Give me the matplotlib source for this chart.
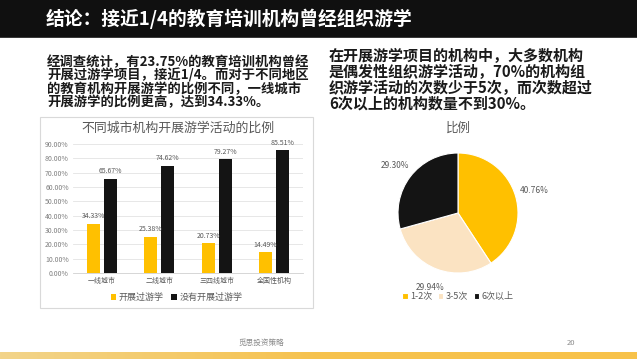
import numpy as np
import matplotlib
matplotlib.use("Agg")
import matplotlib.pyplot as plt
from matplotlib.patches import Rectangle
from matplotlib.colors import LinearSegmentedColormap

plt.rcParams['font.family'] = ['Noto Sans CJK SC', 'DejaVu Sans']

# 数据
cities = ['一线城市', '二线城市', '三四线城市', '全国性机构']
done = [34.33, 25.38, 20.73, 14.49]
not_done = [65.67, 74.62, 79.27, 85.51]
yticks = [0, 10, 20, 30, 40, 50, 60, 70, 80, 90]

freq_labels = ['1-2次', '3-5次', '6次以上']
freq_values = [40.76, 29.94, 29.30]

title_text = '结论：接近1/4的教育培训机构曾经组织游学'
left_lines = ['经调查统计，有23.75%的教育培训机构曾经',
              '开展过游学项目，接近1/4。而对于不同地区',
              '的教育机构开展游学的比例不同，一线城市',
              '开展游学的比例更高，达到34.33%。']
right_lines = ['在开展游学项目的机构中，大多数机构',
               '是偶发性组织游学活动，70%的机构组',
               '织游学活动的次数少于5次，而次数超过',
               '6次以上的机构数量不到30%。']

W, H = 637, 359
YELLOW = '#FFC000'
BLACK = '#141414'
BEIGE = '#FBE3C2'
GRAY = '#595959'

fig = plt.figure(figsize=(W / 100, H / 100), dpi=100)
fig.patch.set_facecolor('white')


def fx(px):
    return px / W


def fy(py):
    return 1 - py / H


# 标题栏
fig.patches.append(Rectangle((0, fy(37)), 1, 37 / H, transform=fig.transFigure,
                             facecolor='#101010', edgecolor='none', zorder=0))
fig.patches.append(Rectangle((0, fy(38)), 1, 1.2 / H, transform=fig.transFigure,
                             facecolor='#3a3a3a', edgecolor='none', zorder=0))
fig.text(fx(46), fy(19), title_text, color='white', fontsize=13.5, fontweight='bold',
         va='center', ha='left')

# 文字段落
for i, line in enumerate(left_lines):
    fig.text(fx(47), fy(62 + i * 13.4), line, fontsize=9.6, fontweight='bold',
             color='#1a1a1a', va='center', ha='left')
for i, line in enumerate(right_lines):
    fig.text(fx(329), fy(56 + i * 16), line, fontsize=10.8, fontweight='bold',
             color='#1a1a1a', va='center', ha='left')

# 柱状图外框
fig.patches.append(Rectangle((fx(40), fy(308)), (313 - 40) / W, (308 - 117) / H,
                             transform=fig.transFigure, facecolor='none',
                             edgecolor='#d9d9d9', linewidth=0.8))
fig.text(fx(178), fy(128), '不同城市机构开展游学活动的比例', fontsize=9.3,
         color=GRAY, ha='center', va='center')

ax = fig.add_axes([fx(73), fy(273), (303 - 73) / W, (273 - 144) / H])
x = np.arange(len(cities))
bw = 0.23
b1 = ax.bar(x - 0.15, done, bw, color=YELLOW, label='开展过游学', zorder=3)
b2 = ax.bar(x + 0.15, not_done, bw, color=BLACK, label='没有开展过游学', zorder=3)
for rect, v in zip(b1, done):
    ax.text(rect.get_x() + rect.get_width() / 2, v + 2.5, f'{v:.2f}%', fontsize=5,
            color=GRAY, ha='center', va='bottom')
for rect, v in zip(b2, not_done):
    ax.text(rect.get_x() + rect.get_width() / 2, v + 2.5, f'{v:.2f}%', fontsize=5,
            color=GRAY, ha='center', va='bottom')
ax.set_xlim(-0.5, 3.5)
ax.set_ylim(0, 90)
ax.set_yticks(yticks)
ax.set_yticklabels([f'{t:.2f}%' for t in yticks], fontsize=5, color='#7f7f7f')
ax.set_xticks(x)
ax.set_xticklabels(cities, fontsize=5, color=GRAY)
ax.tick_params(length=0, pad=3)
ax.grid(axis='y', color='#e3e3e3', linewidth=0.6, zorder=0)
for s in ['top', 'right', 'left']:
    ax.spines[s].set_visible(False)
ax.spines['bottom'].set_color('#d0d0d0')
ax.spines['bottom'].set_linewidth(0.6)
ax.legend(loc='center', bbox_to_anchor=(0.45, -0.19), ncol=2, frameon=False,
          fontsize=6.5, handlelength=0.6, handleheight=0.6, handletextpad=0.3,
          columnspacing=0.8, labelcolor=GRAY)

# 饼图
fig.text(fx(458), fy(128), '比例', fontsize=9, color=GRAY, ha='center', va='center')
pax = fig.add_axes([fx(398), fy(273), 120 / W, 120 / H])
wedges, _, autotexts = pax.pie(freq_values, colors=[YELLOW, BEIGE, BLACK], startangle=90,
                               counterclock=False, autopct='%.2f%%', pctdistance=1.32,
                               wedgeprops=dict(edgecolor='white', linewidth=0.8),
                               textprops=dict(fontsize=6, color=GRAY))
pax.set_xlim(-1, 1)
pax.set_ylim(-1, 1)
pax.set_aspect('equal')
pax.legend(wedges, freq_labels, loc='center', bbox_to_anchor=(0.5, -0.2), ncol=3,
           frameon=False, fontsize=6.5, handlelength=0.6, handleheight=0.6,
           handletextpad=0.3, columnspacing=0.6, labelcolor=GRAY)

# 页脚
fig.text(fx(261), fy(343), '觅思投资策略', fontsize=5.5, color='#8c8c8c',
         ha='center', va='center')
fig.text(fx(571), fy(343), '20', fontsize=5.5, color='#8c8c8c', ha='center', va='center')
bax = fig.add_axes([0, 0, 1, 7 / H])
grad = np.linspace(0, 1, 256).reshape(1, -1)
cmap = LinearSegmentedColormap.from_list('bar', ['#F2D48A', '#F6C24E', '#F8C24A'])
bax.imshow(grad, aspect='auto', cmap=cmap, extent=(0, 1, 0, 1))
bax.axis('off')

fig.savefig('out.png', dpi=100)
